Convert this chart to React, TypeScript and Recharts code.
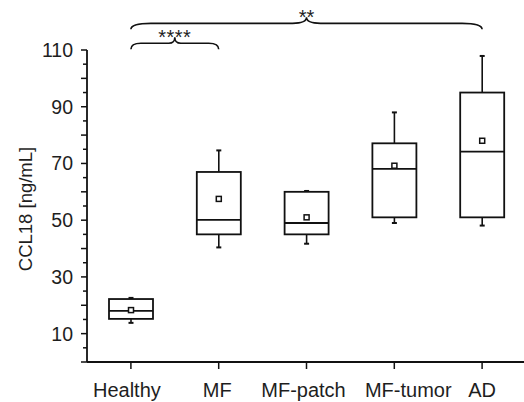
import React from 'react';
import { ComposedChart, Bar, XAxis, YAxis, ReferenceLine } from 'recharts';

const categories = ['Healthy', 'MF', 'MF-patch', 'MF-tumor', 'AD'];
const whiskerLow = [13.8, 40.4, 41.7, 49.0, 48.1];
const q1 = [15.2, 45.0, 45.0, 51.0, 51.0];
const median = [18.0, 50.1, 49.0, 68.1, 74.2];
const q3 = [22.2, 67.0, 60.0, 77.1, 95.0];
const whiskerHigh = [22.6, 74.6, 60.3, 88.0, 107.9];
const mean = [18.3, 57.5, 51.0, 69.2, 78.0];

const yTicks = [0, 5, 10, 15, 20, 25, 30, 35, 40, 45, 50, 55, 60, 65, 70, 75, 80, 85, 90, 95, 100, 105, 110];
const yLabelTicks = [10, 30, 50, 70, 90, 110];

const braceFrom = ['Healthy', 'Healthy'];
const braceTo = ['MF', 'AD'];
const braceLevel = [112.4, 119.4];
const braceText = ['****', '**'];

const data = categories.map((c, i) => ({
  name: c,
  whiskerLow: whiskerLow[i],
  q1: q1[i],
  median: median[i],
  q3: q3[i],
  whiskerHigh: whiskerHigh[i],
  mean: mean[i],
  range: [whiskerLow[i], whiskerHigh[i]],
}));

const INK = '#111';
const TXT = '#1e1e1e';
const FONT = '"Liberation Sans", Arial, sans-serif';

// horizontal nudge of x tick labels (style only)
const labelNudge: Record<string, number> = { Healthy: -4, MF: -1.5, 'MF-patch': -3, 'MF-tumor': 14, AD: 0 };

const BoxShape = (props: any) => {
  const { x, y, width, height, payload } = props;
  if (!payload) return null;
  const lo = payload.whiskerLow;
  const hi = payload.whiskerHigh;
  const yHi = Math.min(y, y + height);
  const yLo = Math.max(y, y + height);
  const toY = (v: number) => yLo - ((v - lo) / (hi - lo)) * (yLo - yHi);
  const cx = x + width / 2;
  const top = toY(payload.q3);
  const bot = toY(payload.q1);
  const med = toY(payload.median);
  const mn = toY(payload.mean);
  return (
    <g>
      <line x1={cx} x2={cx} y1={toY(hi)} y2={top} stroke={INK} strokeWidth={1.6} />
      <line x1={cx} x2={cx} y1={bot} y2={toY(lo)} stroke={INK} strokeWidth={1.6} />
      <line x1={cx - 2.5} x2={cx + 2.5} y1={toY(hi)} y2={toY(hi)} stroke={INK} strokeWidth={2} />
      <line x1={cx - 2.5} x2={cx + 2.5} y1={toY(lo)} y2={toY(lo)} stroke={INK} strokeWidth={2} />
      <rect x={x} y={top} width={width} height={bot - top} fill="#fff" stroke={INK} strokeWidth={1.8} />
      <line x1={x} x2={x + width} y1={med} y2={med} stroke={INK} strokeWidth={1.8} />
      <rect x={cx - 2.5} y={mn - 2.5} width={5} height={5} fill="#fff" stroke={INK} strokeWidth={1.5} />
    </g>
  );
};

const makeBrace = (text: string, r: number, rp: number, spacing: number) => (p: any) => {
  const { x1, x2, y1 } = p;
  if (x1 == null || x2 == null || y1 == null) return null;
  const y = y1;
  const xm = (x1 + x2) / 2;
  const d = `M ${x1} ${y + 6} Q ${x1} ${y} ${x1 + r} ${y} L ${xm - rp} ${y} Q ${xm} ${y} ${xm} ${y - 6} Q ${xm} ${y} ${xm + rp} ${y} L ${x2 - r} ${y} Q ${x2} ${y} ${x2} ${y + 6}`;
  return (
    <g>
      <path d={d} fill="none" stroke={INK} strokeWidth={1.6} />
      <text x={xm} y={y + 1} textAnchor="middle" fontSize={20} letterSpacing={spacing} fontFamily={FONT} fill={TXT}>
        {text}
      </text>
    </g>
  );
};

const YTick = (props: any) => {
  const { x, y, payload } = props;
  const v = payload.value;
  const len = v % 10 === 0 ? 6 : 4;
  return (
    <g>
      <line x1={x - len} x2={x} y1={y} y2={y} stroke={INK} strokeWidth={1.5} />
      {yLabelTicks.includes(v) && (
        <text x={x - 14} y={y} dy="0.355em" textAnchor="end" fontSize={19.5} fontFamily={FONT} fill={TXT}>
          {v}
        </text>
      )}
    </g>
  );
};

const XTick = (props: any) => {
  const { x, y, payload } = props;
  const nudge = labelNudge[payload.value] ?? 0;
  return (
    <g>
      <line x1={x} x2={x} y1={y} y2={y + 7} stroke={INK} strokeWidth={1.5} />
      <text x={x + nudge} y={y + 35} textAnchor="middle" fontSize={20} fontFamily={FONT} fill={TXT}>
        {payload.value}
      </text>
    </g>
  );
};

const YLabel = () => {
  const lx = 32;
  const cy = 209;
  return (
    <text
      x={lx}
      y={cy}
      transform={`rotate(-90, ${lx}, ${cy})`}
      textAnchor="middle"
      fontSize={18.5}
      fontFamily={FONT}
      fill={TXT}
    >
      CCL18 [ng/mL]
    </text>
  );
};

export default function App() {
  return (
    <div style={{ position: 'absolute', left: 0, top: 0, width: 524, height: 402, overflow: 'hidden', background: '#fff' }}>
      <ComposedChart width={526} height={402} data={data} margin={{ top: 50, right: 0, bottom: 0, left: 0 }}>
        <XAxis
          dataKey="name"
          type="category"
          height={40}
          tickSize={0}
          tickMargin={0}
          tickLine={false}
          axisLine={{ stroke: INK, strokeWidth: 1.8 }}
          tick={<XTick />}
          interval={0}
        />
        <YAxis
          type="number"
          domain={[0, 110]}
          ticks={yTicks}
          width={87}
          tickSize={0}
          tickMargin={0}
          tickLine={false}
          axisLine={{ stroke: INK, strokeWidth: 1.8 }}
          tick={<YTick />}
          interval={0}
          allowDataOverflow
          label={{ content: <YLabel /> }}
        />
        <Bar dataKey="range" barSize={44} shape={<BoxShape />} isAnimationActive={false} />
        {braceFrom.map((f, i) => (
          <ReferenceLine
            key={i}
            segment={[
              { x: f, y: braceLevel[i] },
              { x: braceTo[i], y: braceLevel[i] },
            ]}
            ifOverflow="visible"
            shape={makeBrace(braceText[i], i === 0 ? 10 : 20, i === 0 ? 6 : 14, i === 0 ? 0.5 : 0)}
          />
        ))}
      </ComposedChart>
    </div>
  );
}
